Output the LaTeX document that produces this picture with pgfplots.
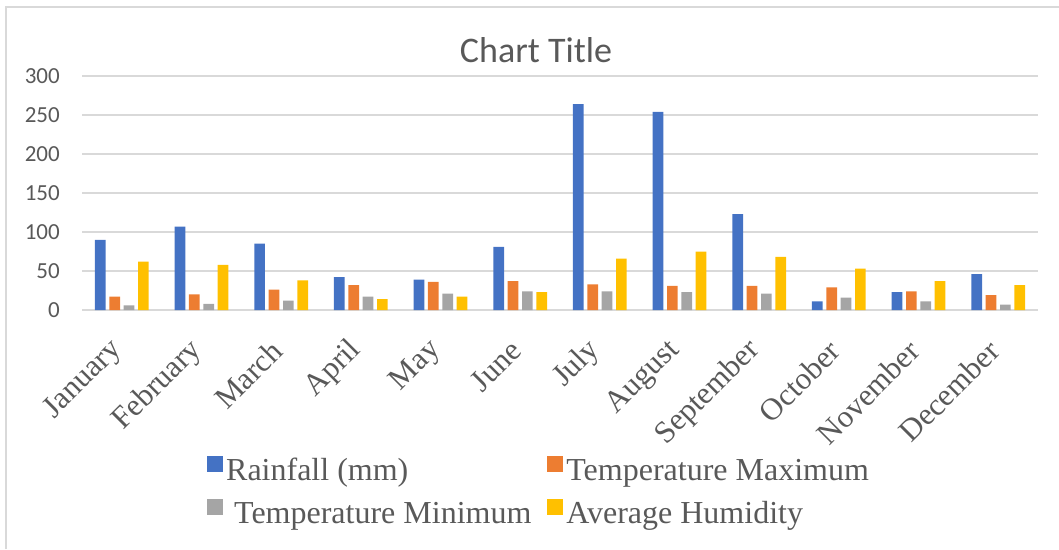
\documentclass[border=0pt]{standalone}
\usepackage{pgfplots}
\pgfplotsset{compat=1.18}
\usepackage{pgfplotstable}
\usepackage{fontspec}
\setmainfont{Liberation Serif}
\newfontfamily\carlito{Carlito}
\definecolor{cblue}{HTML}{4472C4}
\definecolor{corange}{HTML}{ED7D31}
\definecolor{cgray}{HTML}{A5A5A5}
\definecolor{cyellow}{HTML}{FFC000}
\definecolor{txt}{HTML}{595959}
\definecolor{gridc}{HTML}{D9D9D9}
\pgfplotstableread{
m rain tmax tmin hum
0 90 17 6 62
1 107 20 8 58
2 85 26 12 38
3 42 32 17 14
4 39 36 21 17
5 81 37 24 23
6 264 33 24 66
7 254 31 23 75
8 123 31 21 68
9 11 29 16 53
10 23 24 11 37
11 46 19 7 32
}\data
\begin{document}
\begin{tikzpicture}[x=1pt,y=1pt]
\path[use as bounding box] (0,0) rectangle (1059,549);
\draw[gridc, line width=2pt] (6,0) -- (6,542) -- (1059,542);
\node[anchor=base, text=txt, font=\carlito\fontsize{36}{36}\selectfont, inner sep=0pt] at (536,486) {Chart Title};
\begin{axis}[
  at={(82pt,239pt)}, anchor=south west,
  scale only axis, width=956pt, height=234pt,
  xmin=-0.5, xmax=11.5, ymin=0, ymax=300,
  ytick={0,50,100,150,200,250,300},
  yticklabels={0,50,100,150,200,250,300},
  xtick={0,1,2,3,4,5,6,7,8,9,10,11},
  xticklabels={January,February,March,April,May,June,July,August,September,October,November,December},
  ymajorgrids, grid style={gridc, line width=1.5pt},
  axis line style={draw=none},
  major tick length=0pt,
  yticklabel style={font=\carlito\fontsize{23}{23}\selectfont, text=txt, inner sep=0pt, xshift=-22pt},
  xticklabel style={font=\fontsize{31}{31}\selectfont, text=txt, inner sep=0pt, xshift=-4pt, yshift=-36pt, rotate=45, anchor=east},
  bar width=0.134,
  legend style={at={(axis description cs:0.1307,-0.62)}, anchor=north west, draw=none, fill=none,
    legend columns=2, font=\fontsize{32}{32}\selectfont, text=txt, inner sep=0pt, row sep=13pt,
    nodes={inner sep=3pt},
    /tikz/every even column/.append style={column sep=13pt}},
  legend cell align=left,
  legend image code/.code={\fill[#1,draw=none] (0pt,-2pt) rectangle (16pt,14pt);},
]
\addplot[ybar, fill=cblue, draw=none, bar shift=-0.27] table[x=m, y=rain] {\data};
\addplot[ybar, fill=corange, draw=none, bar shift=-0.09] table[x=m, y=tmax] {\data};
\addplot[ybar, fill=cgray, draw=none, bar shift=0.09] table[x=m, y=tmin] {\data};
\addplot[ybar, fill=cyellow, draw=none, bar shift=0.27] table[x=m, y=hum] {\data};
\legend{Rainfall (mm),Temperature Maximum,\ Temperature Minimum,Average Humidity}
\end{axis}
\end{tikzpicture}
\end{document}
